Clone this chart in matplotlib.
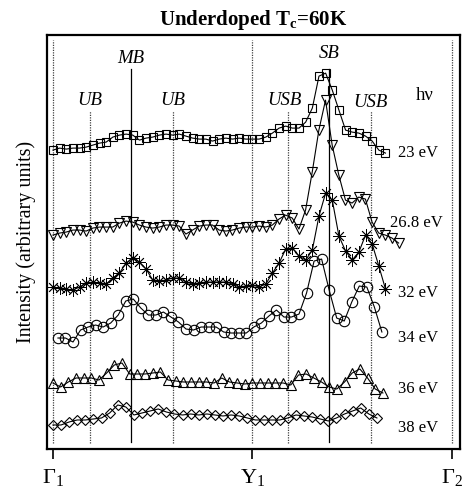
import numpy as np
import matplotlib
matplotlib.use('Agg')
import matplotlib.pyplot as plt

plt.rcParams['font.family'] = ['Liberation Serif', 'DejaVu Serif']
plt.rcParams['mathtext.fontset'] = 'custom'
plt.rcParams['mathtext.rm'] = 'Liberation Serif'
plt.rcParams['mathtext.it'] = 'Liberation Serif:italic'
plt.rcParams['mathtext.bf'] = 'Liberation Serif:bold'

# k-range (Gamma1 = 0, Y1 = 1, Gamma2 = 2) covered by each spectrum
k_23 = (0.0, 1.667)
k_268 = (0.0, 1.733)
k_32 = (0.0, 1.667)
k_34 = (0.025, 1.649)
k_36 = (0.0, 1.654)
k_38 = (0.0, 1.624)

# intensities (arbitrary units, already stacked)
i_23 = [299, 301, 300, 301, 301, 302, 304, 306, 307, 312,
        314, 315, 314, 309, 311, 312, 314, 315, 314, 315,
        313, 311, 310, 310, 308, 310, 311, 310, 311, 310,
        310, 310, 312, 316, 321, 323, 321, 321, 327, 341,
        373, 376, 359, 339, 319, 317, 316, 313, 308, 299, 296]
i_268 = [214, 216, 217, 219, 219, 218, 221, 222, 222, 222,
         226, 228, 227, 224, 222, 221, 222, 224, 224, 223,
         215, 219, 223, 224, 224, 219, 218, 219, 221, 222,
         222, 223, 222, 224, 230, 234, 231, 220, 239, 277,
         319, 349, 304, 274, 249, 246, 252, 250, 227, 216,
         214, 211, 206]
i_32 = [162, 161, 160, 159, 162, 166, 167, 166, 165, 171,
        176, 186, 191, 187, 180, 169, 168, 169, 171, 171,
        167, 165, 166, 167, 167, 167, 167, 165, 162, 163,
        164, 162, 165, 176, 186, 200, 201, 193, 189, 199,
        233, 256, 249, 213, 198, 189, 197, 214, 205, 183, 160]
i_34 = [111, 111, 107, 119, 122, 124, 122, 126, 134, 148,
        150, 141, 134, 134, 137, 132, 127, 120, 119, 122,
        122, 122, 117, 116, 116, 116, 122, 126, 133, 139,
        132, 132, 135, 156, 188, 190, 159, 131, 128, 147,
        163, 162, 142, 117]
i_36 = [66, 62, 67, 71, 71, 71, 69, 76, 84, 86,
        75, 75, 75, 76, 77, 69, 68, 67, 67, 67,
        67, 66, 71, 67, 66, 65, 66, 66, 66, 66,
        66, 64, 74, 75, 71, 67, 62, 60, 67, 76,
        80, 71, 60, 56]
i_38 = [24, 24, 27, 29, 29, 30, 31, 36, 44, 42,
        34, 36, 38, 40, 37, 35, 34, 35, 34, 35,
        34, 33, 34, 33, 31, 29, 29, 29, 29, 31,
        34, 33, 32, 30, 28, 31, 35, 38, 41, 35, 31]

energies = ['23 eV', '26.8 eV', '32 eV', '34 eV', '36 eV', '38 eV']
energy_pos = [(1.73, 296), (1.69, 226), (1.73, 156), (1.73, 111), (1.73, 60), (1.73, 21)]

# band positions along k
k_ub = [0.185, 0.603]
k_mb = 0.391
k_usb = [1.177, 1.592]
k_sb = 1.383
k_sym = [0.0, 1.0, 2.0]
sym_labels = [r'$\Gamma_1$', r'Y$_1$', r'$\Gamma_2$']

fig = plt.figure(figsize=(4.65, 4.95), dpi=100)
ax = fig.add_axes([0.101, 0.093, 0.888, 0.836])

# vertical guide lines
for k in k_sym:
    ax.plot([k, k], [6, 409], color='0.25', lw=0.9, ls=(0, (1, 1)))
for k in k_ub + k_usb:
    ax.plot([k, k], [6, 338], color='0.25', lw=0.9, ls=(0, (1, 1)))
for k in [k_mb, k_sb]:
    ax.plot([k, k], [7, 380], color='black', lw=0.9)

spectra = [
    (k_23, i_23, 's', 5.5, 0.8),
    (k_268, i_268, 'v', 7.5, 0.8),
    (k_32, i_32, (8, 2, 0), 9, 0.6),
    (k_34, i_34, 'o', 7.5, 0.8),
    (k_36, i_36, '^', 7, 0.8),
    (k_38, i_38, 'D', 5.5, 0.8),
]
for (k0, k1), vals, mk, ms, mw in spectra:
    kk = np.linspace(k0, k1, len(vals))
    ax.plot(kk, vals, color='black', lw=0.8, marker=mk, ms=ms,
            mfc='none', mec='black', mew=mw)

for txt, (x, y) in zip(energies, energy_pos):
    ax.text(x, y, txt, fontsize=12, ha='left', va='center')

# band labels
ax.text(k_ub[0], 349, 'UB', fontsize=13.5, style='italic', ha='center', va='center')
ax.text(k_ub[1], 349, 'UB', fontsize=13.5, style='italic', ha='center', va='center')
ax.text(k_mb, 391, 'MB', fontsize=13.5, style='italic', ha='center', va='center')
ax.text(k_usb[0] - 0.015, 349, 'USB', fontsize=13.5, style='italic', ha='center', va='center')
ax.text(k_usb[1], 347, 'USB', fontsize=13.5, style='italic', ha='center', va='center')
ax.text(k_sb, 396, 'SB', fontsize=13.5, style='italic', ha='center', va='center')
ax.text(1.865, 354, 'hν', fontsize=13.5, ha='center', va='center')

ax.set_xlim(-0.03, 2.04)
ax.set_ylim(0, 414)
ax.set_xticks(k_sym)
ax.set_xticklabels(sym_labels, fontsize=16)
ax.set_yticks([])
ax.tick_params(axis='x', direction='out', length=7, width=1.2, pad=6)
for sp in ax.spines.values():
    sp.set_linewidth(1.6)

ax.set_ylabel('Intensity (arbitrary units)', fontsize=14.5, labelpad=8)
ax.set_title(r'Underdoped T$_{\mathbf{c}}$=60K', fontsize=15, fontweight='bold', pad=7)

fig.savefig('out.png', dpi=100)
